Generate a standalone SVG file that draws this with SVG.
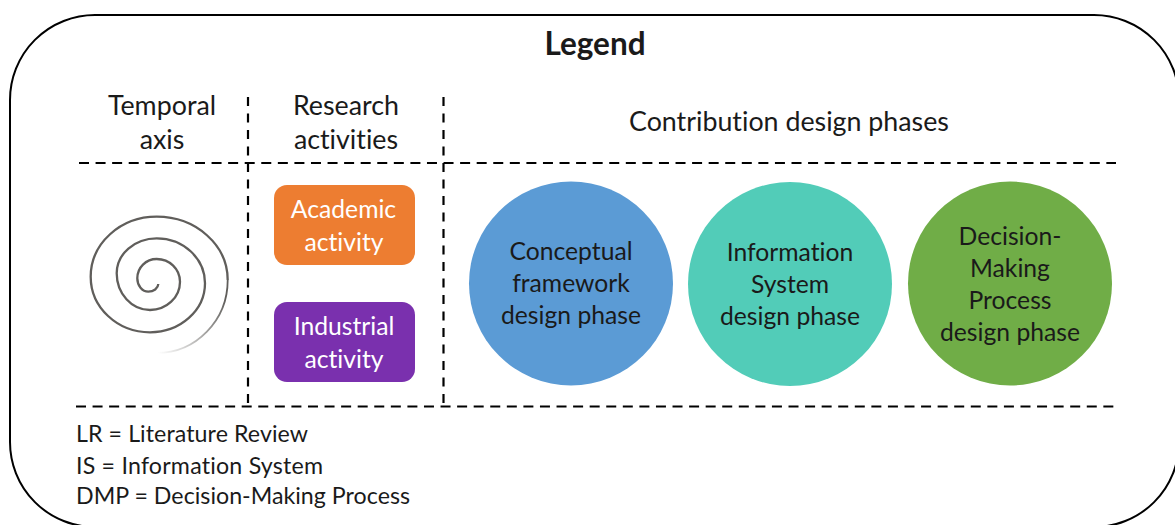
<svg xmlns="http://www.w3.org/2000/svg" width="1175" height="525" viewBox="0 0 1175 525">
<style>
text{font-family:"Lato","Carlito","Open Sans",sans-serif;fill:#1a1a1a;font-size:24.700px;text-anchor:middle;font-variant-ligatures:none}
.h{font-size:26.800px}
.k{font-size:23.200px;text-anchor:start}
.d{fill:none;stroke:#000;stroke-width:2.200;stroke-dasharray:10 6.570}
.v{fill:none;stroke:#000;stroke-width:2.200;stroke-dasharray:9 7.500}
.s{fill:none;stroke:#605e5b;stroke-width:2.300}
</style>
<defs><linearGradient id="fade" gradientUnits="userSpaceOnUse" x1="226" y1="300" x2="158" y2="353"><stop offset="0" stop-color="#605e5b"/><stop offset="1" stop-color="#605e5b" stop-opacity="0"/></linearGradient></defs>
<rect width="1175" height="525" fill="#fff"/>
<g id="frame"><rect x="10" y="15" width="1169" height="512" rx="85" ry="85" fill="#fff" stroke="#000" stroke-width="2"/></g>
<g id="headers">
<text x="595" y="55" style="font-weight:700;font-size:31.500px">Legend</text>
<text class="h" x="162" y="115">Temporal</text><text class="h" x="162" y="149">axis</text>
<text class="h" x="346" y="115">Research</text><text class="h" x="346" y="149">activities</text>
<text class="h" x="789" y="131">Contribution design phases</text>
</g>
<g id="connectors">
<path class="d" d="M79 163H1116M76 406.500H1114"/>
<path class="v" d="M248 97V403M443.500 97V403"/>
</g>
<g id="temporal-axis">
<path class="s" d="M158.300 284A10 8 0 0 1 148.300 291.700A11 13.400 0 0 1 137.300 278.300A19.400 19.300 0 0 1 156.700 259A23.300 22.700 0 0 1 180 281.700A30 28.300 0 0 1 150 310A33.300 36.700 0 0 1 116.700 273.300A40 35 0 0 1 156.700 238.300A48.300 45 0 0 1 205 283.300A55 49 0 0 1 150 332.300A59.300 55.600 0 0 1 90.700 276.700A66 60 0 0 1 156.700 216.700A71 63.300 0 0 1 227.700 280"/>
<path d="M227.700 280A71 73 0 0 1 156.700 353" fill="none" stroke="url(#fade)" stroke-width="1.800"/>
</g>
<g id="academic-activity">
<rect x="274" y="185" width="141" height="80" rx="13" fill="#ed7d31"/>
<text x="343.500" y="218" style="fill:#fff">Academic</text><text x="344" y="251" style="fill:#fff">activity</text>
</g>
<g id="industrial-activity">
<rect x="274" y="302" width="141" height="80" rx="13" fill="#7a30ae"/>
<text x="344" y="335" style="fill:#fff">Industrial</text><text x="344" y="368" style="fill:#fff">activity</text>
</g>
<g id="conceptual-phase">
<circle cx="571" cy="283.500" r="102" fill="#5b9bd5"/>
<text x="571" y="260">Conceptual</text><text x="571" y="292">framework</text><text x="571" y="324">design phase</text>
</g>
<g id="information-phase">
<circle cx="790" cy="284" r="102" fill="#52ccb8"/>
<text x="790" y="261">Information</text><text x="790" y="293">System</text><text x="790" y="325">design phase</text>
</g>
<g id="decision-phase">
<circle cx="1010" cy="283.500" r="102" fill="#70ad47"/>
<text x="1010" y="245">Decision-</text><text x="1010" y="277">Making</text><text x="1010" y="309">Process</text><text x="1010" y="341">design phase</text>
</g>
<g id="abbreviations">
<text class="k" x="76" y="442" textLength="232">LR = Literature Review</text>
<text class="k" x="76" y="474" textLength="247">IS = Information System</text>
<text class="k" x="76" y="504" textLength="334">DMP = Decision-Making Process</text>
</g>
</svg>
